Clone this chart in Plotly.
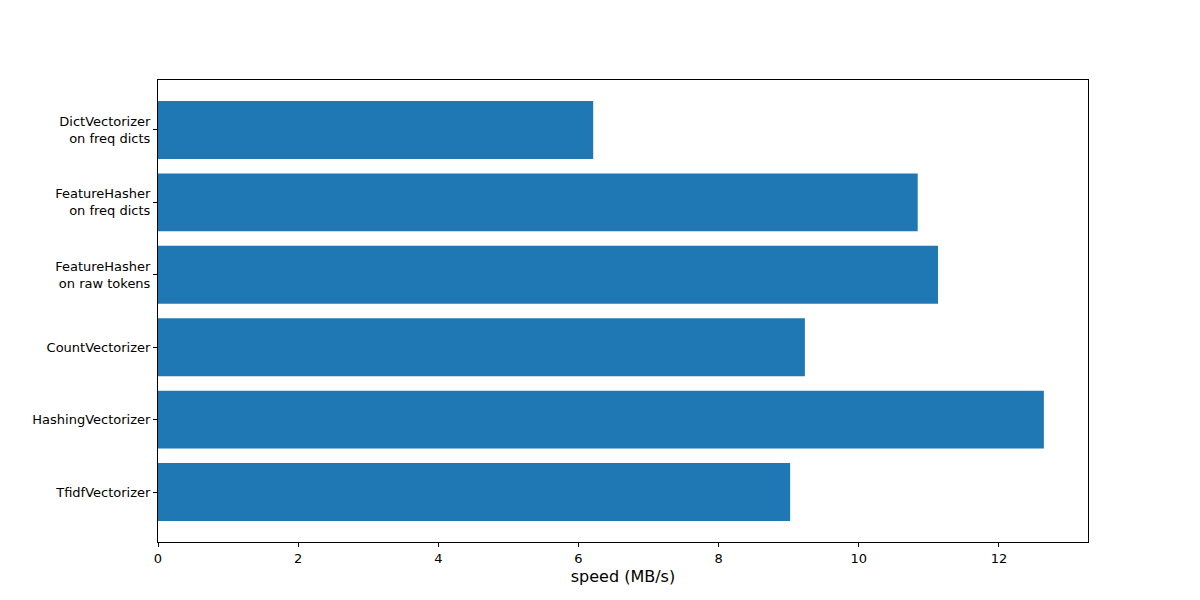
import plotly.graph_objects as go

labels = ["DictVectorizer<br>on freq dicts", "FeatureHasher<br>on freq dicts",
          "FeatureHasher<br>on raw tokens", "CountVectorizer",
          "HashingVectorizer", "TfidfVectorizer"]
speeds = [6.21, 10.84, 11.13, 9.23, 12.64, 9.02]

positions = list(range(len(labels)))

fig = go.Figure(go.Bar(
    x=speeds, y=positions, orientation="h", width=0.8,
    marker=dict(color="#1f77b4", line=dict(width=0)),
))

axis_common = dict(showgrid=False, zeroline=False, showline=True, mirror=True,
                   linecolor="black", linewidth=1, ticks="outside", ticklen=4,
                   tickcolor="black", tickfont=dict(size=13, color="black"))

fig.update_layout(
    width=1200, height=600,
    paper_bgcolor="white", plot_bgcolor="white",
    font=dict(family="DejaVu Sans", size=13, color="black"),
    margin=dict(l=150, r=120, t=72, b=66),
    bargap=0.2, showlegend=False,
    xaxis=dict(range=[0, 13.27], tickvals=[0, 2, 4, 6, 8, 10, 12],
               title=dict(text="speed (MB/s)", standoff=6), **axis_common),
    yaxis=dict(range=[5.69, -0.69], tickvals=positions, ticktext=labels,
               **axis_common),
)

fig.write_html("out.html")
